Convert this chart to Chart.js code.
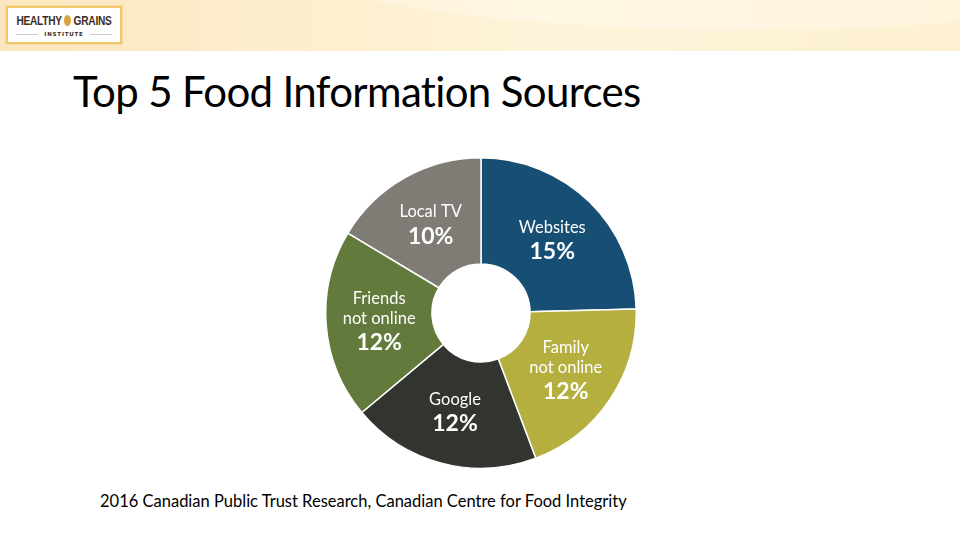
<!DOCTYPE html>
<html>
<head>
<meta charset="utf-8">
<script src="https://cdn.jsdelivr.net/npm/chart.js@4/dist/chart.umd.min.js"></script>
<style>
  html,body{margin:0;padding:0;background:#fff;}
  body{width:960px;height:540px;position:relative;overflow:hidden;font-family:Lato,"Open Sans",sans-serif;}
  #banner{position:absolute;left:0;top:0;width:960px;height:51px;
    background:linear-gradient(90deg,#fbe7bf 0%,#fdeecd 30%,#fef3da 60%,#fdf0d2 100%);overflow:hidden;}
  #swoosh{position:absolute;left:200px;top:-180px;width:1100px;height:210px;border-radius:50%;
    background:linear-gradient(90deg,rgba(255,250,235,0.0),rgba(255,249,232,0.75) 30%,rgba(255,246,225,0.6) 80%);}
  #logo{position:absolute;left:6px;top:6px;width:112px;height:34px;border:2px solid #f2c86a;background:#fff;
    box-shadow:0 0 0 1px #f7dca0;}
  #logo .t1{position:absolute;left:56px;top:6px;height:13px;white-space:nowrap;line-height:13px;
    transform:translateX(-50%) scaleX(0.78);transform-origin:center;
    font-family:"Liberation Sans",sans-serif;font-weight:bold;font-size:13px;color:#3a2c1e;letter-spacing:-0.3px;}
  #logo .dot{display:inline-block;width:9px;height:11px;border-radius:50%;background:#d9a441;vertical-align:-1px;margin:0 3px;}
  #logo .t2{position:absolute;left:0;top:23px;width:112px;height:6px;line-height:6px;text-align:center;font-family:"DejaVu Sans",sans-serif;
    font-weight:bold;font-size:5.5px;color:#3a2c1e;letter-spacing:0.8px;white-space:nowrap;}
  #logo .ln{position:absolute;top:26px;height:1px;width:22px;background:#ccc;}
  #title{position:absolute;left:73px;top:66px;font-size:42px;color:#000;white-space:nowrap;letter-spacing:-0.65px;}
  #src{position:absolute;left:100px;top:491px;font-size:16.5px;color:#000;white-space:nowrap;}
  #c{position:absolute;left:325px;top:157px;}
</style>
</head>
<body>
<div id="banner"><div id="swoosh"></div>
  <div id="logo"><div class="t1">HEALTHY<span class="dot"></span>GRAINS</div><div class="ln" style="left:8px"></div><div class="ln" style="left:82px"></div><div class="t2">INSTITUTE</div></div>
</div>
<div id="title">Top 5 Food Information Sources</div>
<canvas id="c" width="312" height="312"></canvas>
<div id="src">2016 Canadian Public Trust Research, Canadian Centre for Food Integrity</div>
<script>
const categories = ["Websites", "Family not online", "Google", "Friends not online", "Local TV"];
const nameLines = [["Websites"], ["Family", "not online"], ["Google"], ["Friends", "not online"], ["Local TV"]];
const values = [15, 12, 12, 12, 10];
const colors = ["#174e74", "#b4af3f", "#32342f", "#627a3c", "#7f7b75"];

const labelPlugin = {
  id: 'sliceLabels',
  afterDatasetsDraw(chart) {
    const ctx = chart.ctx;
    const meta = chart.getDatasetMeta(0);
    meta.data.forEach((arc, i) => {
      const p = arc.tooltipPosition();
      const names = nameLines[i];
      const ys = [];
      let y = 0;
      names.forEach(() => { ys.push(y); y += 20; });
      const pctY = ys[ys.length - 1] + 24;
      const off = -(ys[0] + pctY) / 2;
      ctx.save();
      ctx.fillStyle = '#ffffff';
      ctx.textAlign = 'center';
      ctx.textBaseline = 'middle';
      ctx.font = '16.5px Lato, "Open Sans", sans-serif';
      names.forEach((n, k) => ctx.fillText(n, p.x, p.y + ys[k] + off));
      ctx.font = 'bold 23px Lato, "Open Sans", sans-serif';
      ctx.fillText(values[i] + '%', p.x, p.y + pctY + off);
      ctx.restore();
    });
  }
};

new Chart(document.getElementById('c'), {
  type: 'doughnut',
  data: {
    labels: categories,
    datasets: [{
      data: values,
      backgroundColor: colors,
      borderColor: '#ffffff',
      borderWidth: 1.5,
      hoverOffset: 0
    }]
  },
  options: {
    responsive: false,
    animation: false,
    cutout: '31.6%',
    layout: { padding: 0 },
    plugins: { legend: { display: false }, tooltip: { enabled: false } }
  },
  plugins: [labelPlugin]
});
</script>
</body>
</html>
